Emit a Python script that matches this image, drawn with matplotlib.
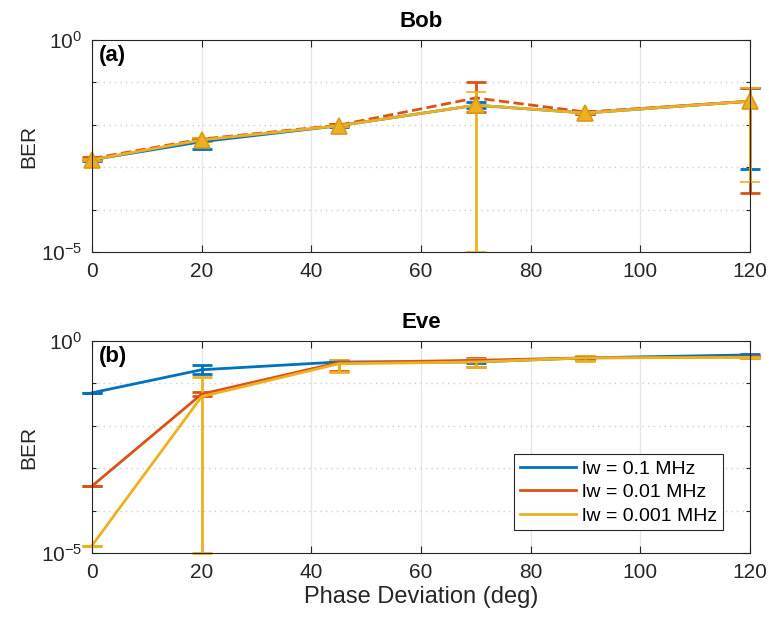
import matplotlib
matplotlib.use('Agg')
import matplotlib.pyplot as plt
import numpy as np
from matplotlib.ticker import FixedLocator, LogFormatterSciNotation, NullFormatter

plt.rcParams['font.family'] = ['Liberation Sans', 'DejaVu Sans']
plt.rcParams['mathtext.default'] = 'regular'

PHASE = [0, 20, 45, 70, 90, 120]
LABELS = ['lw = 0.1 MHz', 'lw = 0.01 MHz', 'lw = 0.001 MHz']
COLORS = ['#0072BD', '#D95319', '#EDB120']

# Bob: mean BER and error bar bounds
BOB_BLUE = [1.5e-3, 4.0e-3, 9.5e-3, 0.029, 0.019, 0.036]
BOB_BLUE_LO = [1.4e-3, 2.7e-3, 9.0e-3, 0.025, 0.018, 9.1e-4]
BOB_BLUE_HI = [1.6e-3, 4.6e-3, 1.05e-2, 0.035, 0.020, 0.074]
BOB_RED = [1.6e-3, 4.6e-3, 9.8e-3, 0.043, 0.020, 0.036]
BOB_RED_LO = [1.5e-3, 4.2e-3, 9.2e-3, 0.020, 0.018, 2.5e-4]
BOB_RED_HI = [1.7e-3, 5.0e-3, 1.05e-2, 0.102, 0.021, 0.074]
BOB_YEL = [1.5e-3, 4.4e-3, 9.5e-3, 0.029, 0.019, 0.036]
BOB_YEL_LO = [1.4e-3, 4.0e-3, 9.0e-3, 1e-5, 0.018, 4.5e-4]
BOB_YEL_HI = [1.6e-3, 4.8e-3, 1.0e-2, 0.060, 0.020, 0.074]

# Eve
EVE_BLUE = [0.06, 0.21, 0.32, 0.32, 0.40, 0.47]
EVE_BLUE_LO = [0.06, 0.17, 0.30, 0.30, 0.38, 0.45]
EVE_BLUE_HI = [0.06, 0.27, 0.34, 0.34, 0.42, 0.49]
EVE_RED = [3.8e-4, 0.056, 0.31, 0.35, 0.40, 0.42]
EVE_RED_LO = [3.8e-4, 0.050, 0.20, 0.25, 0.35, 0.40]
EVE_RED_HI = [3.8e-4, 0.062, 0.36, 0.39, 0.44, 0.44]
EVE_YEL = [1.5e-5, 0.049, 0.29, 0.32, 0.40, 0.41]
EVE_YEL_LO = [1.5e-5, 1e-5, 0.19, 0.245, 0.345, 0.39]
EVE_YEL_HI = [1.5e-5, 0.145, 0.355, 0.38, 0.44, 0.43]


def draw(ax, series, styles, markers):
    handles = []
    for (y, lo, hi), color, ls, mk in zip(series, COLORS, styles, markers):
        y = np.array(y)
        yerr = [y - np.array(lo), np.array(hi) - y]
        kw = {}
        if mk:
            kw = dict(marker='^', markersize=12, markerfacecolor='#EDB120',
                      markeredgecolor='#D99A1A', markeredgewidth=1.2)
        cont = ax.errorbar(PHASE, y, yerr=yerr, color=color, lw=2, ls=ls,
                           elinewidth=2, capsize=7, capthick=2, **kw)
        for art in [cont[0], *cont[1], *cont[2]]:
            art.set_clip_on(False)
        handles.append(cont[0])
    return handles


def style(ax, title, tag):
    ax.set_yscale('log')
    ax.set_xlim(0, 120)
    ax.set_ylim(1e-5, 1e0)
    ax.set_xticks(range(0, 121, 20))
    ax.yaxis.set_major_locator(FixedLocator([1e-5, 1e0]))
    ax.yaxis.set_major_formatter(LogFormatterSciNotation())
    ax.yaxis.set_minor_locator(FixedLocator([1e-4, 1e-3, 1e-2, 1e-1]))
    ax.yaxis.set_minor_formatter(NullFormatter())
    ax.grid(True, which='major', axis='x', color='#E6E6E6', lw=1)
    ax.grid(True, which='minor', axis='y', color='#CFCFCF', lw=1, ls=(0, (1, 3)))
    ax.set_axisbelow(True)
    ax.tick_params(which='both', direction='in', top=True, right=True,
                   labelsize=15, colors='#262626', length=5, width=0.8)
    ax.tick_params(axis='x', pad=7)
    ax.tick_params(axis='y', pad=7)
    ax.tick_params(which='minor', length=3)
    for sp in ax.spines.values():
        sp.set_color('#262626')
        sp.set_linewidth(0.8)
    ax.set_title(title, fontsize=16, fontweight='bold', pad=9)
    ax.set_ylabel('BER', fontsize=15, color='#262626', labelpad=2)
    ax.text(0.01, 0.975, tag, transform=ax.transAxes, fontsize=16,
            fontweight='bold', va='top', ha='left')


def main():
    fig = plt.figure(figsize=(7.69, 6.2), dpi=100)
    ax1 = fig.add_axes([0.1196, 0.5935, 0.8557, 0.342])
    ax2 = fig.add_axes([0.1196, 0.108, 0.8557, 0.342])

    draw(ax1, [(BOB_BLUE, BOB_BLUE_LO, BOB_BLUE_HI),
               (BOB_RED, BOB_RED_LO, BOB_RED_HI),
               (BOB_YEL, BOB_YEL_LO, BOB_YEL_HI)],
         ['-', '--', '-'], [False, False, True])
    style(ax1, 'Bob', '(a)')

    handles = draw(ax2, [(EVE_BLUE, EVE_BLUE_LO, EVE_BLUE_HI),
                         (EVE_RED, EVE_RED_LO, EVE_RED_HI),
                         (EVE_YEL, EVE_YEL_LO, EVE_YEL_HI)],
                   ['-', '-', '-'], [False, False, False])
    style(ax2, 'Eve', '(b)')
    ax2.set_xlabel('Phase Deviation (deg)', fontsize=17, color='#262626',
                   labelpad=3)
    leg = ax2.legend(handles, LABELS, loc='lower right', fontsize=14,
                     fancybox=False, edgecolor='#262626', framealpha=1,
                     handlelength=2.9, handletextpad=0.3, borderpad=0.3,
                     labelspacing=0.3, bbox_to_anchor=(0.974, 0.061))
    leg.get_frame().set_linewidth(0.8)

    fig.savefig('out.png', dpi=100)


if __name__ == '__main__':
    main()
